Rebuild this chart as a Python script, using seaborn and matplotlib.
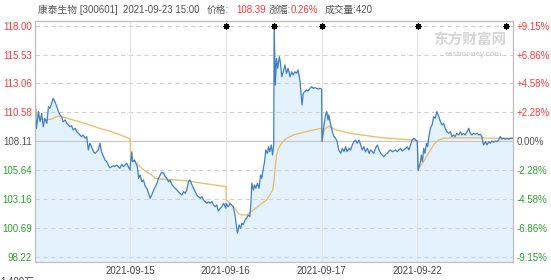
import numpy as np
import pandas as pd
import matplotlib
matplotlib.use("Agg")
import matplotlib.pyplot as plt
import seaborn as sns

# ---------------- data ----------------
prev_close = 108.11
price_ticks = [118.00, 115.53, 113.06, 110.58, 108.11, 105.64, 103.16, 100.69, 98.22]
pct_labels = ["+9.15%", "+6.86%", "+4.58%", "+2.28%", "0.00%", "-2.28%", "-4.58%", "-6.86%", "-9.15%"]
day_labels = ["2021-09-15", "2021-09-16", "2021-09-17", "2021-09-22"]

# day 1 (2021-09-14)
d1_min = [1, 5, 10, 14, 18, 22, 26, 31, 35, 39, 43, 47, 51, 56, 60, 64, 68, 72, 77, 81,
          85, 89, 93, 97, 102, 106, 110, 114, 118, 122, 127, 131, 135, 139, 143, 148, 152, 156, 160, 164,
          168, 173, 177, 181, 185, 189, 194, 198, 202, 206, 210, 214, 219, 223, 227, 231, 235, 240]
d1_px = [111.70, 109.20, 110.64, 109.78, 110.50, 109.35, 110.07, 109.64, 111.07, 110.93,
         111.36, 111.78, 111.50, 111.07, 110.64, 110.36, 110.21, 109.78, 109.93, 109.64,
         109.50, 109.35, 109.44, 109.07, 109.22, 108.92, 108.79, 108.64, 108.50, 108.64,
         108.36, 108.50, 107.36, 107.93, 107.64, 107.21, 107.07, 107.21, 107.36, 107.93,
         107.21, 106.78, 106.50, 106.36, 106.07, 105.84, 105.93, 106.01, 105.93, 106.07,
         105.93, 105.79, 106.13, 105.93, 106.07, 106.22, 105.93, 105.64]
d1_avg_min = [0, 6, 15, 27, 42, 58, 75, 105, 130, 160, 190, 215, 240]
d1_avg = [111.70, 110.30, 110.00, 109.95, 110.00, 110.25, 110.15, 109.85, 109.60, 109.25, 108.95, 108.65, 108.30]

# day 2 (2021-09-15)
d2_min = [0, 4, 6, 11, 14, 18, 21, 25, 29, 33, 38, 42, 46, 50, 54, 59, 63, 67, 71, 75,
          79, 84, 88, 92, 96, 100, 105, 109, 113, 117, 121, 125, 130, 134, 138, 142, 146, 150, 155, 159,
          163, 167, 171, 176, 180, 184, 188, 192, 196, 201, 205, 209, 213, 217, 221, 226, 230, 234, 238, 240]
d2_px = [105.93, 107.21, 106.36, 106.50, 106.22, 105.93,
         104.93, 105.22, 104.64, 104.79, 104.22, 104.08, 103.65, 103.22, 103.50, 103.93,
         104.22, 104.51, 104.93, 105.22, 105.45, 105.36, 105.07, 104.93, 104.64, 104.79,
         104.36, 104.22, 104.08, 103.93, 103.79, 103.65, 103.50, 103.79, 103.65, 103.93,
         104.64, 104.79, 104.36, 104.08, 103.79, 103.50, 103.36, 103.22, 103.36, 103.07,
         102.93, 102.79, 102.93, 102.79, 102.93, 102.65, 102.50, 102.65, 102.13, 102.37,
         102.50, 102.79, 102.50, 102.37]
d2_avg_min = [1, 13, 29, 46, 54, 63, 80, 113, 146, 180, 213, 240]
d2_avg = [106.50, 106.36, 105.79, 105.36, 105.22, 104.93, 104.85, 104.79, 104.70, 104.51, 104.36, 104.22]

# day 3 (2021-09-16)
d3_min = [0, 6, 10, 14, 18, 23, 27, 29, 33, 37, 40, 43, 48, 52, 56, 60, 63, 65, 69, 72,
          75, 79, 83, 87, 90, 94, 97, 100, 104, 107, 110, 114, 117, 120, 121, 124, 127, 130, 134, 137,
          140, 144, 148, 152, 156, 161, 165, 169, 173, 177, 181, 186, 188, 191, 194, 198, 202, 206, 211, 215,
          219, 223, 227, 232, 236, 240]
d3_px = [102.79, 102.50, 102.79, 102.65, 102.50, 101.79, 100.65, 100.23, 100.94, 100.65,
         101.08, 100.94, 101.36, 101.51, 101.79, 101.65, 102.93, 104.51, 103.93, 104.36,
         104.08, 104.51, 104.08, 105.22, 104.93, 105.79, 106.36, 107.36, 107.07, 107.64,
         107.21, 107.79, 106.93, 107.79, 118.00, 112.92, 115.21, 114.35, 115.35, 114.78,
         113.63, 114.06, 114.64, 113.92, 114.35, 113.63, 114.06, 113.78, 114.06, 113.92,
         114.21, 113.21, 112.35, 111.21, 112.21, 112.35, 112.49, 112.41, 112.64, 112.78,
         112.64, 112.69, 112.64, 112.58, 112.64, 112.58]
d3_avg_min = [1, 10, 23, 31, 39, 52, 69, 85, 102, 117, 121, 124, 127, 131, 135, 144, 152, 169, 194, 219, 240]
d3_avg = [103.08, 102.79, 102.37, 101.94, 101.79, 101.79, 102.22, 102.65, 103.08, 103.90,
          104.80, 106.00, 106.90, 107.40, 107.70, 108.10, 108.36, 108.64, 108.87, 109.07, 109.22]

# day 4 (2021-09-17)
d4_min = [1, 6, 10, 13, 16, 18, 23, 27, 31, 35, 39, 43, 48, 52, 56, 60, 64, 69, 73, 77,
          81, 85, 89, 94, 98, 102, 106, 110, 115, 119, 123, 127, 131, 135, 140, 144, 148, 152, 156, 161,
          165, 169, 173, 177, 181, 186, 190, 194, 198, 202, 206, 211, 215, 219, 223, 227, 232, 236, 240]
d4_px = [108.07, 109.50, 110.36, 110.64, 109.93, 110.36, 109.50, 108.92, 108.50, 108.36,
         108.07, 107.36, 107.07, 107.50, 107.21, 107.64, 107.21, 107.50, 107.36, 107.79,
         108.07, 108.21, 107.93, 108.21, 107.79, 107.36, 107.64, 107.21, 107.50, 107.07,
         107.36, 107.21, 107.07, 107.50, 107.79, 107.36, 107.07, 106.93, 106.78, 106.99,
         107.07, 107.27, 107.36, 107.21, 107.27, 107.36, 107.21, 107.36, 107.50, 107.27,
         107.36, 107.50, 107.64, 107.36, 107.79, 108.21, 108.36, 108.21, 108.07]
d4_avg_min = [1, 5, 10, 18, 35, 69, 110, 152, 194, 236, 240]
d4_avg = [108.10, 108.90, 109.20, 109.40, 109.10, 108.80, 108.60, 108.40, 108.30, 108.20, 108.15]

# day 5 (2021-09-22)
d5_min = [2, 8, 10, 13, 16, 19, 23, 26, 29, 33, 37, 41, 45, 49, 54, 58, 62, 66, 70,
          74, 79, 83, 87, 91, 95, 99, 104, 108, 112, 116, 120, 125, 129, 133, 137, 141, 145, 150, 154,
          158, 162, 166, 171, 175, 179, 183, 187, 191, 196, 200, 204, 208, 212, 217, 221, 225, 229, 233, 240]
d5_px = [105.60, 106.36, 106.93, 106.36, 107.50, 107.07, 107.93, 107.64, 108.50,
         109.22, 109.50, 110.21, 110.07, 110.64, 110.21, 109.78, 109.50, 109.64, 109.22,
         108.92, 108.79, 108.92, 108.50, 108.64, 108.50, 108.79, 108.64, 108.92, 108.64,
         108.79, 108.64, 108.92, 109.22, 108.79, 108.64, 108.79, 108.70, 108.79, 108.64,
         108.70, 108.50, 107.79, 108.07, 107.79, 108.07, 107.93, 108.13, 108.02, 108.13,
         108.07, 108.21, 108.50, 108.30, 108.36, 108.27, 108.36, 108.27, 108.36, 108.39]
d5_avg_min = [2, 16, 28, 41, 53, 66, 108, 150, 191, 240]
d5_avg = [105.75, 106.36, 107.07, 107.79, 108.21, 108.36, 108.41, 108.41, 108.36, 108.36]

event_minutes = [480, 601, 722, 963, 1182]

# ---------------- build frames ----------------
days_min = [d1_min, d2_min, d3_min, d4_min, d5_min]
days_px = [d1_px, d2_px, d3_px, d4_px, d5_px]
days_avg_min = [d1_avg_min, d2_avg_min, d3_avg_min, d4_avg_min, d5_avg_min]
days_avg = [d1_avg, d2_avg, d3_avg, d4_avg, d5_avg]

price_df = pd.DataFrame({
    "t": np.concatenate([np.array(m) + 240 * i for i, m in enumerate(days_min)]),
    "price": np.concatenate([np.array(p) for p in days_px]),
})
avg_df = pd.DataFrame({
    "t": np.concatenate([np.array(m) + 240 * i for i, m in enumerate(days_avg_min)]),
    "avg": np.concatenate([np.array(p) for p in days_avg]),
})

# ---------------- style ----------------
sns.set_style("white")
plt.rcParams["font.family"] = ["Liberation Sans", "Noto Sans CJK SC", "DejaVu Sans"]

W, H = 551, 280
fig = plt.figure(figsize=(W / 100, H / 100), dpi=100)
left, right, top, bottom = 34.5, 513, 20.7, 261.7
ax = fig.add_axes([left / W, 1 - bottom / H, (right - left) / W, (bottom - top) / H])

ylo, yhi = 97.79, 118.43
ax.set_xlim(0, 1200)
ax.set_ylim(ylo, yhi)

# fill under price
ax.fill_between(price_df["t"], price_df["price"], ylo, color="#e4f2fd", lw=0, zorder=1)

# grid lines
for v in price_ticks:
    if v == prev_close:
        ax.axhline(v, color="#c8c8c8", lw=0.9, zorder=2)
    else:
        ax.axhline(v, color="#d0d0d0", lw=0.8, ls=(0, (4, 3)), zorder=2)
for k in range(1, 5):
    ax.axvline(240 * k, color="#e4e4e4", lw=0.8, zorder=2)

sns.lineplot(data=avg_df, x="t", y="avg", ax=ax, color="#ebbf6e", lw=1.0, zorder=3,
             estimator=None, sort=False)
sns.lineplot(data=price_df, x="t", y="price", ax=ax, color="#3f7fc4", lw=0.9, zorder=4,
             estimator=None, sort=False)

# event markers at top
ax.scatter(event_minutes, [118.0] * len(event_minutes), marker=(8, 2, 0), s=16,
           color="black", lw=0.9, zorder=6, clip_on=False)
ax.scatter(event_minutes, [118.0] * len(event_minutes), marker="o", s=5,
           color="black", zorder=6, clip_on=False)

ax.set_xlabel("")
ax.set_ylabel("")

# left ticks
ax.set_yticks(price_ticks)
ax.set_yticklabels([f"{v:.2f}" for v in price_ticks])
for lbl, v in zip(ax.get_yticklabels(), price_ticks):
    if v > prev_close:
        lbl.set_color("#ff3a3a")
    elif v < prev_close:
        lbl.set_color("#2f9e2f")
    else:
        lbl.set_color("#555555")
ax.tick_params(axis="y", length=0, pad=2, labelsize=7)

ax.set_xticks([240, 480, 720, 960])
ax.set_xticklabels(day_labels)
ax.tick_params(axis="x", length=0, pad=3, labelsize=7, labelcolor="#444444")

# right ticks
ax2 = ax.twinx()
ax2.set_ylim(ylo, yhi)
ax2.set_yticks(price_ticks)
ax2.set_yticklabels(pct_labels)
for lbl, v in zip(ax2.get_yticklabels(), price_ticks):
    if v > prev_close:
        lbl.set_color("#ff3a3a")
    elif v < prev_close:
        lbl.set_color("#2f9e2f")
    else:
        lbl.set_color("#555555")
ax2.tick_params(axis="y", length=0, pad=2.5, labelsize=7)

for a in (ax, ax2):
    for s in a.spines.values():
        s.set_color("#bdbdbd")
        s.set_linewidth(0.8)
ax2.grid(False)

# watermark
ax.text(0.985, 0.955, "东方财富网", transform=ax.transAxes, ha="right", va="top",
        fontsize=10.5, color="#d6d6d6", fontweight="bold", family=["Noto Sans CJK SC"], zorder=0.5)
ax.text(0.978, 0.875, "eastmoney.com", transform=ax.transAxes, ha="right", va="top",
        fontsize=5.5, color="#d6d6d6", fontweight="bold", zorder=0.5)

# header
gray = "#555555"
red = "#ff3a3a"
hy = 1 - 10 / H
def ht(xpx, s, c):
    fig.text(xpx / W, hy, s, color=c, fontsize=7, ha="left", va="center")
ht(37.5, "康泰生物 [300601]", gray)
ht(123, "2021-09-23 15:00", gray)
ht(207, "价格:", gray)
ht(236, "108.39", red)
ht(269, "涨幅:", gray)
ht(290.5, "0.26%", red)
ht(325, "成交量:420", gray)

# cut-off volume scale label
fig.text(0 / W, 1 - 276.5 / H, "1,400万", color="#444444", fontsize=7, ha="left", va="top")

fig.savefig("out.png", dpi=100)
